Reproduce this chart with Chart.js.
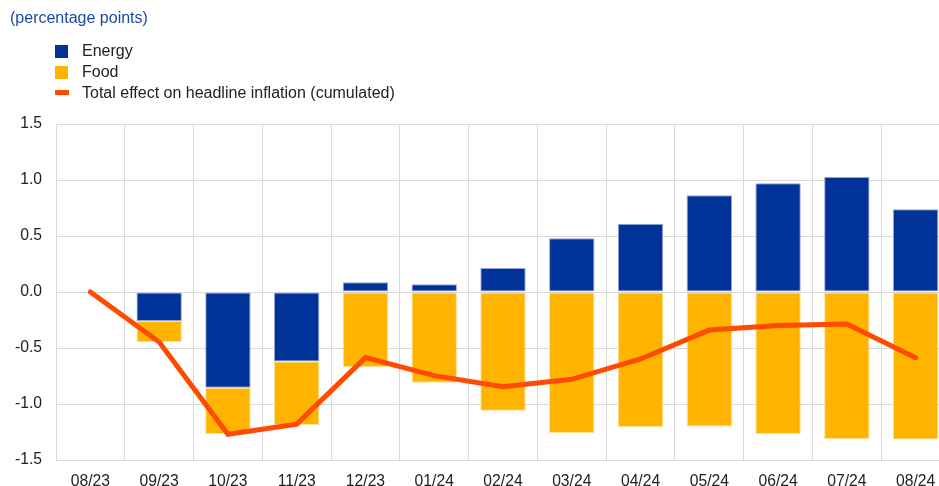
<!DOCTYPE html>
<html>
<head>
<meta charset="utf-8">
<script src="https://cdn.jsdelivr.net/npm/chart.js@4.4.1/dist/chart.umd.min.js"></script>
<style>
  html, body { margin: 0; padding: 0; background: #fff; overflow: hidden; width: 939px; height: 486px; }
  #wrap { position: relative; width: 950px; height: 486px; }
  #c { position: absolute; left: 0; top: 0; }
  .title { position: absolute; left: 10px; top: 9px; font: 16px "Liberation Sans", Arial, sans-serif; color: #1a4aa6; white-space: nowrap; }
  .leg { position: absolute; left: 55px; font: 16px "Liberation Sans", Arial, sans-serif; color: #222; white-space: nowrap; }
  .leg .sw { position: absolute; left: 0; }
  .leg .tx { position: absolute; left: 27px; top: 0; line-height: 20px; }
</style>
</head>
<body>
<div id="wrap">
  <canvas id="c" width="950" height="486"></canvas>
  <div class="title" id="title"></div>
  <div id="legend"></div>
</div>
<script>
const titleText = "(percentage points)";
const categories = ["08/23","09/23","10/23","11/23","12/23","01/24","02/24","03/24","04/24","05/24","06/24","07/24","08/24"];
const energy = [0, -0.26, -0.855, -0.62, 0.087, 0.069, 0.214, 0.48, 0.61, 0.863, 0.97, 1.027, 0.738];
const food = [0, -0.186, -0.413, -0.567, -0.67, -0.81, -1.06, -1.259, -1.205, -1.202, -1.268, -1.3125, -1.318];
const totalEffect = [0, -0.446, -1.27, -1.18, -0.586, -0.747, -0.845, -0.78, -0.598, -0.34, -0.30, -0.286, -0.586];
const yTicks = [-1.5, -1.0, -0.5, 0.0, 0.5, 1.0, 1.5];
const seriesLabels = ["Energy", "Food", "Total effect on headline inflation (cumulated)"];
const colors = { energy: "#003299", food: "#ffb400", line: "#ff4b00" };

document.getElementById("title").textContent = titleText;

// HTML legend
const legendDiv = document.getElementById("legend");
const legendRows = [
  { label: seriesLabels[0], type: "box", color: colors.energy, top: 41 },
  { label: seriesLabels[1], type: "box", color: colors.food, top: 62 },
  { label: seriesLabels[2], type: "line", color: colors.line, top: 83 }
];
legendRows.forEach(r => {
  const row = document.createElement("div");
  row.className = "leg";
  row.style.top = r.top + "px";
  const sw = document.createElement("div");
  sw.className = "sw";
  if (r.type === "box") {
    sw.style.cssText = "left:0;top:4px;width:13px;height:13px;background:" + r.color;
  } else {
    sw.style.cssText = "left:0;top:7px;width:14px;height:5px;background:" + r.color;
  }
  const tx = document.createElement("div");
  tx.className = "tx";
  tx.textContent = r.label;
  row.appendChild(sw);
  row.appendChild(tx);
  legendDiv.appendChild(row);
});

const FONT = { family: "'Liberation Sans', Arial, sans-serif", size: 15.7 };
const GRID = "#d9d9d9";

new Chart(document.getElementById("c"), {
  type: "bar",
  data: {
    labels: categories,
    datasets: [
      {
        type: "line", label: seriesLabels[2], data: totalEffect,
        borderColor: colors.line, backgroundColor: colors.line, borderWidth: 5,
        pointRadius: 0, pointHoverRadius: 0, tension: 0, fill: false,
        borderCapStyle: "round", borderJoinStyle: "miter", order: 0
      },
      {
        label: seriesLabels[0], data: energy, backgroundColor: colors.energy,
        borderColor: "rgba(120,145,205,0.8)", borderWidth: 1, borderSkipped: false,
        stack: "s", order: 1
      },
      {
        label: seriesLabels[1], data: food, backgroundColor: colors.food,
        borderColor: "rgba(255,215,120,0.8)", borderWidth: 1, borderSkipped: false,
        stack: "s", order: 2
      }
    ]
  },
  options: {
    responsive: false,
    animation: false,
    devicePixelRatio: 1,
    layout: { padding: { top: 124, right: 0, bottom: 0, left: 0 } },
    plugins: { legend: { display: false }, tooltip: { enabled: false }, title: { display: false } },
    datasets: { bar: { categoryPercentage: 1.0, barPercentage: 0.66 } },
    scales: {
      x: {
        stacked: true,
        grid: { color: GRID, lineWidth: 1, drawTicks: false, offset: true },
        border: { color: GRID },
        ticks: { color: "#222", font: FONT, padding: 12, maxRotation: 0, autoSkip: false },
        afterFit: s => { s.height = 26; }
      },
      y: {
        stacked: true,
        min: -1.5, max: 1.5,
        afterBuildTicks: s => { s.ticks = yTicks.map(v => ({ value: v })); },
        grid: { color: GRID, lineWidth: 1, drawTicks: false },
        border: { color: GRID },
        ticks: { color: "#222", font: FONT, padding: 14, callback: v => Number(v).toFixed(1) },
        afterFit: s => { s.width = 56; }
      }
    }
  }
});
</script>
</body>
</html>
